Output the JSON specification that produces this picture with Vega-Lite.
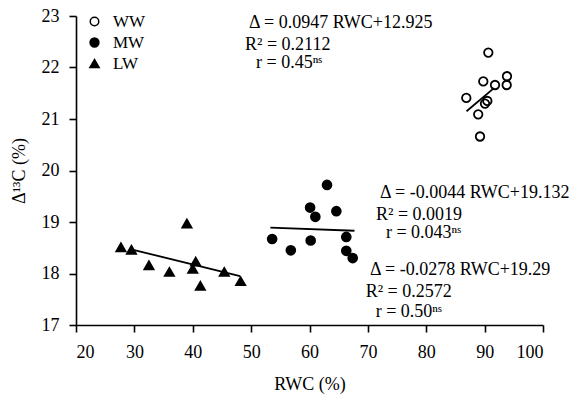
{
  "$schema": "https://vega.github.io/schema/vega-lite/v6.json",
  "autosize": {"type": "none"},
  "padding": {"left": 76, "top": 16, "right": 34, "bottom": 71},
  "width": 467,
  "height": 309,
  "background": "white",
  "config": {
    "view": {"stroke": null},
    "font": "Liberation Serif",
    "axis": {
      "grid": false,
      "domainColor": "black",
      "domainWidth": 1.6,
      "tickColor": "black",
      "tickWidth": 1.6,
      "tickSize": 7,
      "labelFont": "Liberation Serif",
      "labelFontSize": 18,
      "labelColor": "black",
      "titleFont": "Liberation Serif",
      "titleFontSize": 18,
      "titleFontWeight": "normal",
      "titleColor": "black"
    },
    "legend": {
      "labelFont": "Liberation Serif",
      "labelFontSize": 17,
      "labelColor": "black"
    }
  },
  "datasets": {
    "pts": [
      {"group": "WW", "rwc": 90.63, "d13c": 22.29},
      {"group": "WW", "rwc": 89.77, "d13c": 21.73},
      {"group": "WW", "rwc": 91.78, "d13c": 21.66},
      {"group": "WW", "rwc": 93.83, "d13c": 21.83},
      {"group": "WW", "rwc": 93.78, "d13c": 21.66},
      {"group": "WW", "rwc": 86.86, "d13c": 21.41},
      {"group": "WW", "rwc": 90.46, "d13c": 21.35},
      {"group": "WW", "rwc": 90.06, "d13c": 21.30},
      {"group": "WW", "rwc": 88.90, "d13c": 21.09},
      {"group": "WW", "rwc": 89.21, "d13c": 20.66},
      {"group": "MW", "rwc": 63.0, "d13c": 19.72},
      {"group": "MW", "rwc": 60.1, "d13c": 19.28},
      {"group": "MW", "rwc": 61.0, "d13c": 19.10},
      {"group": "MW", "rwc": 64.6, "d13c": 19.21},
      {"group": "MW", "rwc": 53.6, "d13c": 18.67},
      {"group": "MW", "rwc": 56.8, "d13c": 18.45},
      {"group": "MW", "rwc": 60.2, "d13c": 18.64},
      {"group": "MW", "rwc": 66.3, "d13c": 18.71},
      {"group": "MW", "rwc": 66.3, "d13c": 18.44},
      {"group": "MW", "rwc": 67.4, "d13c": 18.30},
      {"group": "LW", "rwc": 27.7, "d13c": 18.51},
      {"group": "LW", "rwc": 29.5, "d13c": 18.46},
      {"group": "LW", "rwc": 32.5, "d13c": 18.16},
      {"group": "LW", "rwc": 36.0, "d13c": 18.03},
      {"group": "LW", "rwc": 39.0, "d13c": 18.97},
      {"group": "LW", "rwc": 40.5, "d13c": 18.23},
      {"group": "LW", "rwc": 40.0, "d13c": 18.09},
      {"group": "LW", "rwc": 41.3, "d13c": 17.76},
      {"group": "LW", "rwc": 45.4, "d13c": 18.03},
      {"group": "LW", "rwc": 48.2, "d13c": 17.85}
    ],
    "fits": [
      {"group": "WW", "rwc": 86.9, "d13c": 21.15},
      {"group": "WW", "rwc": 91.6, "d13c": 21.60},
      {"group": "MW", "rwc": 53.3, "d13c": 18.89},
      {"group": "MW", "rwc": 67.7, "d13c": 18.83},
      {"group": "LW", "rwc": 29.8, "d13c": 18.46},
      {"group": "LW", "rwc": 48.1, "d13c": 17.95}
    ],
    "notes": [
      {"rwc": 49.64, "d13c": 22.858, "label": "Δ = 0.0947 RWC+12.925"},
      {"rwc": 48.95, "d13c": 22.437, "label": "R² = 0.2112"},
      {"rwc": 50.84, "d13c": 22.08, "label": "r = 0.45ⁿˢ"},
      {"rwc": 72.08, "d13c": 19.557, "label": "Δ = -0.0044 RWC+19.132"},
      {"rwc": 71.39, "d13c": 19.136, "label": "R² = 0.0019"},
      {"rwc": 73.10, "d13c": 18.78, "label": "r = 0.043ⁿˢ"},
      {"rwc": 70.36, "d13c": 18.068, "label": "Δ = -0.0278 RWC+19.29"},
      {"rwc": 69.63, "d13c": 17.647, "label": "R² = 0.2572"},
      {"rwc": 71.34, "d13c": 17.258, "label": "r = 0.50ⁿˢ"}
    ]
  },
  "layer": [
    {
      "data": {"name": "pts"},
      "mark": {"type": "point", "filled": true, "stroke": "black", "strokeWidth": 1.8, "opacity": 1},
      "encoding": {
        "x": {
          "field": "rwc", "type": "quantitative",
          "scale": {"domain": [20, 100], "nice": false, "zero": false},
          "axis": {"values": [20, 30, 40, 50, 60, 70, 80, 90, 100], "title": "RWC (%)", "labelPadding": 11, "titlePadding": 14}
        },
        "y": {
          "field": "d13c", "type": "quantitative",
          "scale": {"domain": [17, 23], "nice": false, "zero": false},
          "axis": {"values": [17, 18, 19, 20, 21, 22, 23], "title": "Δ¹³C (%)", "labelPadding": 10, "titlePadding": 13}
        },
        "shape": {
          "field": "group", "type": "nominal",
          "scale": {"domain": ["WW", "MW", "LW"], "range": ["circle", "circle", "triangle-up"]},
          "legend": {"title": null, "orient": "none", "legendX": 10, "legendY": -3, "padding": 0, "rowPadding": 3, "labelOffset": 10}
        },
        "fill": {
          "field": "group", "type": "nominal",
          "scale": {"domain": ["WW", "MW", "LW"], "range": ["transparent", "black", "black"]},
          "legend": {"title": null, "orient": "none", "legendX": 10, "legendY": -3, "padding": 0, "rowPadding": 3, "labelOffset": 10}
        },
        "size": {
          "field": "group", "type": "nominal",
          "scale": {"domain": ["WW", "MW", "LW"], "range": [72, 85, 140]},
          "legend": {"title": null, "orient": "none", "legendX": 10, "legendY": -3, "padding": 0, "rowPadding": 3, "labelOffset": 10}
        }
      }
    },
    {
      "data": {"name": "fits"},
      "mark": {"type": "line", "color": "black", "strokeWidth": 1.8},
      "encoding": {
        "x": {"field": "rwc", "type": "quantitative"},
        "y": {"field": "d13c", "type": "quantitative"},
        "detail": {"field": "group", "type": "nominal"}
      }
    },
    {
      "data": {"name": "notes"},
      "mark": {"type": "text", "align": "left", "baseline": "middle", "font": "Liberation Serif", "fontSize": 18, "color": "black"},
      "encoding": {
        "x": {"field": "rwc", "type": "quantitative"},
        "y": {"field": "d13c", "type": "quantitative"},
        "text": {"field": "label"}
      }
    }
  ]
}
